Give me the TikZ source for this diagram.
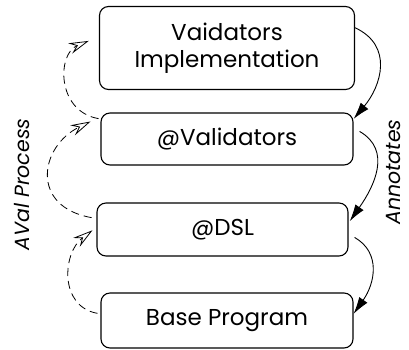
\documentclass[tikz,border=0pt]{standalone}
\usepackage{fontspec}
\setmainfont{Poppins}
\usetikzlibrary{arrows.meta}

\tikzset{
  layer/.style={draw, rounded corners=9pt, line width=1.1pt, align=center,
    font=\fontsize{23}{27}\selectfont, inner sep=0pt},
  annot/.style={-{Latex[length=17pt,width=10pt]}, line width=0.9pt},
  aval/.style={-{Stealth[open,length=20pt,width=11pt,inset=7pt]},
    dash pattern=on 8pt off 5pt, line width=0.8pt},
  sidelabel/.style={font=\fontsize{20.5}{24}\selectfont\itshape, rotate=90}
}

\begin{document}
\begin{tikzpicture}[x=1pt,y=1pt]
  \useasboundingbox (0,0) rectangle (409,-349);
  % layers
  \node[layer, minimum width=255pt, minimum height=83pt] (impl) at (227,-48) {Vaidators\\Implementation};
  \node[layer, minimum width=252pt, minimum height=52pt] (val) at (227,-139) {@Validators};
  \node[layer, minimum width=251pt, minimum height=53pt] (dsl) at (222.5,-229.5) {@DSL};
  \node[layer, minimum width=252pt, minimum height=55pt] (base) at (227,-320.5) {Base Program};
  % side labels
  \node[sidelabel] (proc) at (22,-184.5) {AVal Process};
  \node[sidelabel] (ann) at (393,-172) {Annotates};
  % annotates
  \draw[annot] (impl.9) to[out=-25, in=50, looseness=1.2] (val.9);
  \draw[annot, shorten <=7pt, shorten >=2pt] (val.5) to[out=-30, in=55, looseness=1.2] (dsl.3);
  \draw[annot, shorten <=7pt] (dsl.-2) to[out=-30, in=55, looseness=1.2] (base.3);
  % aval process
  \draw[aval, shorten <=2pt, shorten >=11pt] (val.171) to[out=170, in=202, looseness=1.4] (impl.175);
  \draw[aval, shorten <=5pt, shorten >=11pt] (dsl.175) to[out=170, in=206, looseness=1.7] (val.170);
  \draw[aval, shorten <=3pt, shorten >=5pt] (base.177) to[out=170, in=217, looseness=1.25] (dsl.179);
\end{tikzpicture}
\end{document}
